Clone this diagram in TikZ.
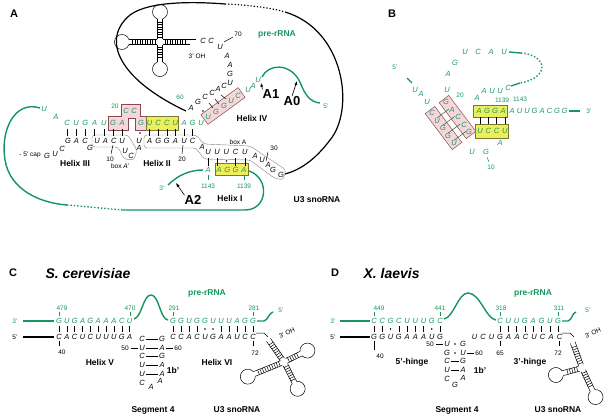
\documentclass[tikz,border=0pt]{standalone}
\usepackage{fontspec}
\setmainfont{Liberation Sans}
\usetikzlibrary{arrows.meta,positioning}
\definecolor{rnagreen}{RGB}{22,150,95}
\definecolor{pinkfill}{RGB}{245,215,218}
\definecolor{pinkedge}{RGB}{140,70,85}
\definecolor{yelfill}{RGB}{238,238,90}
\definecolor{yeledge}{RGB}{120,120,50}
\tikzset{
    nt/.style = {font=\fontsize{7.5}{7.5}\selectfont\itshape, inner sep=0pt},
    gnt/.style = {nt, text=rnagreen},
    num/.style = {font=\fontsize{6.5}{7}\selectfont, inner sep=0pt},
    gnum/.style = {num, text=rnagreen},
    lbl/.style = {font=\fontsize{8.5}{9}\selectfont\bfseries, inner sep=0pt},
    panel/.style = {font=\fontsize{11}{11}\selectfont\bfseries, inner sep=0pt},
    site/.style = {font=\fontsize{13}{13}\selectfont\bfseries, inner sep=0pt},
    grn/.style = {rnagreen, line width=1.4pt},
    blk/.style = {black, line width=1.2pt},
    pair/.style = {line width=0.5pt},
    pinkbox/.style = {draw=pinkedge, fill=pinkfill, line width=0.5pt},
    yelbox/.style = {draw=yeledge, fill=yelfill, line width=0.5pt},
    boxline/.style = {draw=gray, line width=0.4pt, rounded corners=3pt},
    cutarrow/.style = {-{Latex[length=4pt]}, line width=0.6pt}
}
% one row of nucleotides
\newcommand{\seqrow}[6]{\foreach \L [count=\i from 0] in {#6} \node[#5] (#1-\i) at (#2+\i*#4,#3) {\L};}
\newcommand{\bars}[5]{\foreach \i in {#5} \draw[pair] (#1+\i*#2,#3) -- (#1+\i*#2,#4);}
\newcommand{\gudots}[4]{\foreach \i in {#4} \fill (#1+\i*#2,#3) circle (0.9pt);}
% stem with rungs and a loop, from a junction
\newcommand{\stemloop}[4]{%
    \begin{scope}[shift={(#1,#2)}, rotate=#3]
        \draw[pair] (3,-2.5) -- (3+#4,-2.5);
        \draw[pair] (3,2.5) -- (3+#4,2.5);
        \foreach \r in {5,7.5,...,#4} \draw[pair] (\r,-2.5) -- (\r,2.5);
        \draw[pair] (3+#4,2.5) arc[start angle=160.5, end angle=-160.5, radius=7.5];
    \end{scope}}
\newcommand{\stemonly}[4]{%
    \begin{scope}[shift={(#1,#2)}, rotate=#3]
        \draw[pair] (3,-2.5) -- (3+#4,-2.5);
        \draw[pair] (3,2.5) -- (3+#4,2.5);
        \foreach \r in {5,7.5,...,#4} \draw[pair] (\r,-2.5) -- (\r,2.5);
    \end{scope}}

\begin{document}
\begin{tikzpicture}[x=1pt, y=-1pt]
    \useasboundingbox (0,0) rectangle (608,415);

    % ---------------- panel A
    \node[panel] (pA) at (14,14) {A};
    \draw[blk] (186,111) .. controls (120,80) and (100,40) .. (130,15) .. controls (150,0) and (200,2) .. (225,4);
    \draw[blk, dotted] (225,4) .. controls (250,5) and (272,8) .. (285,12);
    \draw[blk] (285,12) .. controls (345,30) and (355,110) .. (330,140) .. controls (315,160) and (300,170) .. (285,174);
    % tRNA-like fold
    \stemloop{160}{42}{180}{28}
    \stemloop{160}{42}{-90}{17}
    \stemloop{160}{42}{90}{20}
    \stemonly{160}{42}{0}{27}
    \draw[pair] (190,39.5) -- (196,39.5);
    \node[num] (ohA) at (197,56) {3' OH};
    \node[lbl, text=rnagreen] (preA) at (277,34) {pre-rRNA};
    % helix IV region
    \node[nt] (a70a) at (203,41) {C};
    \node[nt] (a70b) at (211,41) {C};
    \node[nt] (a70c) at (220,47) {U};
    \node[nt] (a70d) at (227,56) {A};
    \node[nt] (a70e) at (230,65) {A};
    \node[nt] (a70f) at (230,74) {G};
    \node[nt] (a70g) at (230,83) {U};
    \node[num] (n70) at (238,34) {70};
    \draw[pair] (224,42) -- (233,37);
    \node[nt] (h4a) at (191,108) {A};
    \node[nt] (h4b) at (198,102) {G};
    \node[nt] (h4c) at (205,97) {C};
    \node[nt] (h4d) at (212,93) {C};
    \node[nt] (h4e) at (218,89) {A};
    \node[nt] (h4f) at (224,86) {C};
    \node[gnum] (n60) at (180,97) {60};
    \draw[pinkbox, rotate around={36:(223,106)}] (200,100) rectangle (246,112);
    \node[gnt] (h4u1) at (208,117) {U};
    \node[gnt] (h4u2) at (216,112) {G};
    \node[gnt] (h4u3) at (224,106) {G};
    \node[gnt] (h4u4) at (231,101) {U};
    \node[gnt] (h4u5) at (238,96) {C};
    \node[gnt] (h4u6) at (248,90) {U};
    \node[gnt] (h4u7) at (253,86) {A};
    \node[gnt] (h4u8) at (258,80) {U};
    \fill (203,111) circle (0.9pt);
    \draw[pair] (209,103) -- (213,108);
    \draw[pair] (215,99) -- (219,104);
    \draw[pair] (221,95) -- (226,99);
    \node[lbl] (hIV) at (252,118) {Helix IV};
    \draw[grn] (262,77) .. controls (268,64) and (290,62) .. (300,82) .. controls (305,95) and (310,102) .. (320,103);
    \node[gnum] (a5p) at (326,106) {5'};
    \node[site] (A1) at (271,94) {A1};
    \node[site] (A0) at (292,101) {A0};
    \draw[cutarrow] (A1.north west) -- (h4u8.south east);
    \draw[cutarrow] (A0.north) -- (297,81);
    % boxes behind the helices
    \draw[pinkbox] (108,116) -- (121,116) -- (121,104) -- (140,104) -- (140,116) -- (146,116) -- (146,130) -- (135,130) -- (135,118) -- (128,118) -- (128,130) -- (108,130) -- cycle;
    \draw[yelbox] (146,116) rectangle (178,130);
    \draw[boxline] (92,135) -- (128,135) -- (137,150) -- (134,160) -- (124,159) -- (118,147) -- (92,147) -- cycle;
    \draw[boxline] (144,135) -- (196,135) -- (204,144) -- (250,146) -- (286,170) -- (283,180) -- (274,178) -- (250,160) -- (204,159) -- (196,148) -- (144,148) -- cycle;
    % helices II and III
    \node[gnt] (uA) at (44,109) {U};
    \node[gnt] (aA) at (56,117) {A};
    \seqrow{tA}{67}{123}{9.2}{gnt}{C,U,G,A,U,G,A}
    \node[gnt] (cc1) at (126,111) {C};
    \node[gnt] (cc2) at (134,111) {C};
    \node[gnum] (n20a) at (115,106) {20};
    \seqrow{tB}{141}{123}{8.6}{gnt}{G,U,C,C,U,A,G,U}
    \bars{67}{9.2}{129}{136}{0,1,2,3,4,5,6}
    \bars{149.6}{8.6}{129}{136}{0,1,2,3,4,5}
    \fill (140,133) circle (0.9pt);
    \node[num] (capA) at (30,155) {- 5' cap};
    \node[nt] (bg1) at (47,156) {G};
    \node[nt] (bu1) at (55,154) {U};
    \node[nt] (bc1) at (62,149) {C};
    \seqrow{bA}{68}{141}{8.5}{nt}{G,A,C}
    \node[nt] (bg2) at (90,148) {G};
    \seqrow{bB}{97}{141}{8.4}{nt}{U,A,C,U}
    \node[nt] (bu2) at (125,151) {U};
    \node[nt] (bc2) at (131,156) {C};
    \node[nt] (ba2) at (139,148) {A};
    \node[nt] (bu3) at (139,141) {U};
    \seqrow{bC}{149.6}{141}{8.6}{nt}{A,G,G,A,U,C}
    \node[nt] (ba3) at (202,147) {A};
    \seqrow{bD}{208}{152}{9.2}{nt}{U,U,U,C,U}
    \node[nt] (ba4) at (255,156) {A};
    \node[nt] (bu4) at (262,160) {U};
    \node[nt] (ba5) at (268,165) {A};
    \node[nt] (bg5) at (273,170) {G};
    \node[nt] (bg6) at (281,175) {G};
    \node[num] (n30) at (274,148) {30};
    \draw[pair] (268,152) -- (266,161);
    \node[num] (boxA) at (238,142) {box A};
    \node[num] (n10) at (110,159) {10};
    \draw[pair] (113,145) -- (111,154);
    \node[num] (boxAp) at (120,166) {box \textit{A'}};
    \node[num] (n20b) at (182,159) {20};
    \draw[pair] (183,145) -- (182,154);
    \node[lbl] (hIII) at (75,163) {Helix III};
    \node[lbl] (hII) at (157,163) {Helix II};
    % helix I
    \draw[yelbox] (215,163) rectangle (248,175);
    \bars{208}{9.2}{158}{166}{0,1,3,4}
    \fill (226.4,161) circle (0.9pt);
    \node[gnt] (g1143) at (208,170) {A};
    \seqrow{gI}{219}{170}{8.3}{gnt}{A,G,G,A}
    \draw[pair, rnagreen] (208,175) -- (208,180);
    \draw[pair, rnagreen] (244,175) -- (244,180);
    \node[gnum] (n1143) at (208,186) {1143};
    \node[gnum] (n1139) at (244,186) {1139};
    \draw[grn] (40,108) .. controls (15,100) and (0,130) .. (5,160) .. controls (10,190) and (40,203) .. (67,205);
    \draw[grn, dotted] (67,205) -- (123,210);
    \draw[grn] (123,210) -- (245,210) .. controls (268,210) and (270,178) .. (249,171);
    \draw[grn] (168,185) .. controls (178,175) and (190,170) .. (203,170);
    \node[gnum] (a3p) at (162,188) {3'};
    \node[site] (A2) at (193,200) {A2};
    \draw[cutarrow] (A2.north west) -- (176,183);
    \node[lbl] (hI) at (230,198) {Helix I};
    \node[lbl] (u3A) at (317,200) {U3 snoRNA};

    % ---------------- panel B
    \node[panel] (pB) at (392,14) {B};
    \node[gnum] (b5p) at (395,67) {5'};
    \draw[grn] (407,78) -- (412,83);
    \node[gnt] (bb1) at (415,90) {U};
    \node[gnt] (bb2) at (421,94) {A};
    \node[gnt] (bb3) at (427,102) {U};
    \draw[pinkbox, rotate around={-53:(443.5,128)}] (421,122) rectangle (466,134);
    \draw[pinkbox, rotate around={-53:(457.5,117)}] (435,111) rectangle (480,123);
    \foreach \k in {0,1,2,3} \draw[pair, rnagreen!70!black] (437+5.6*\k,118+7.5*\k) -- (449+5.6*\k,109+7.5*\k);
    \foreach \L/\X/\Y in {C/432/113, U/437/121, G/443/128, G/448/136, U/454/143} \node[gnt] at (\X,\Y) {\L};
    \foreach \L/\X/\Y in {G/446/102, A/452/110, C/458/117, C/464/125, G/469/132} \node[gnt] at (\X,\Y) {\L};
    \node[gnt] (bu20) at (447,90) {U};
    \node[gnum] (b20) at (460,95) {20};
    \node[gnt] (bl1) at (448,74) {A};
    \node[gnt] (bl2) at (455,63) {G};
    \seqrow{bl}{465}{52}{13}{gnt}{U,C,A,U}
    \draw[grn] (509,52) -- (521,53);
    \draw[grn, dotted] (521,53) .. controls (548,55) and (550,78) .. (520,83);
    \draw[grn] (520,83) -- (511,86);
    \node[gnt] (bc) at (508,88) {C};
    \seqrow{bk}{500}{91}{-8}{gnt}{U,U,A}
    \node[gnt] (bk3) at (477,98) {A};
    \node[gnum] (b1139) at (502,100) {1139};
    \node[gnum] (b1143) at (520,99) {1143};
    \draw[yelbox] (473,105) rectangle (507,117);
    \draw[yelbox] (475,124) rectangle (508,138);
    \seqrow{by}{479}{111}{8}{gnt}{A,G,G,A}
    \seqrow{bz}{512}{111}{7.5}{gnt}{A,U,U,G,A,C,G,G}
    \draw[grn] (569,111) -- (580,111);
    \node[gnum] (b3p) at (589,111) {3'};
    \seqrow{bw}{480}{131}{8.3}{gnt}{U,C,C,U}
    \bars{480}{8.3}{117}{124}{0,1,2,3}
    \node[gnt] (bwa) at (500,143) {A};
    \node[gnt] (bwu) at (472,152) {U};
    \node[gnt] (bwg) at (486,152) {G};
    \draw[pair, rnagreen] (487,157) -- (489,162);
    \node[gnum] (b10) at (491,167) {10};

    % ---------------- panel C
    \node[panel] (pC) at (13,273) {C};
    \node[font=\fontsize{14}{14}\selectfont\bfseries\itshape, anchor=west] (sc) at (42,273) {S. cerevisiae};
    \node[gnum] (c3p) at (15,321) {3'};
    \draw[grn] (23,321) -- (54,321);
    \seqrow{cg}{59}{321}{7.85}{gnt}{G,U,G,A,G,A,A,A,C,U}
    \draw[grn] (134,319) .. controls (142,317) and (143,295) .. (151,295) .. controls (159,295) and (160,319) .. (168,320);
    \seqrow{ch}{173}{321}{8}{gnt}{G,G,U,G,G,U,U,U,A,G,G}
    \draw[grn] (257,321) -- (264,321) .. controls (268,320) and (269,313) .. (273,312);
    \node[gnum] (c5p) at (281,310) {5'};
    \node[lbl, text=rnagreen] (preC) at (207,293) {pre-rRNA};
    \node[gnum] (c479) at (62,308) {479};
    \node[gnum] (c470) at (130,308) {470};
    \node[gnum] (c291) at (174,308) {291};
    \node[gnum] (c281) at (254,308) {281};
    \foreach \X in {59,130,173,253} \draw[pair, rnagreen] (\X,312) -- (\X,316);
    \bars{59}{7.85}{326}{332}{0,1,2,3,4,5,6,7,8,9}
    \bars{173}{8}{326}{332}{0,1,2,3,6,7,8,9,10}
    \gudots{173}{8}{329}{4,5}
    \node[num] (c5pb) at (15,337) {5'};
    \draw[blk] (23,337) -- (54,337);
    \seqrow{cb}{59}{337}{7.85}{nt}{C,A,C,U,C,U,U,U,G,A}
    \seqrow{cc}{173}{337}{8}{nt}{C,C,A,C,U,G,A,A,U,C,C}
    \draw[pair] (59,341) -- (59,346);
    \node[num] (c40) at (62,352) {40};
    \draw[pair] (253,341) -- (253,346);
    \node[num] (c72) at (255,353) {72};
    \foreach \L/\R/\Y in {C/G/339, U/A/348, C/G/356, U/A/365, U/A/374}
    {
        \node[nt] at (142,\Y) {\L};
        \node[nt] at (162,\Y) {\R};
        \draw[pair] (146,\Y) -- (158,\Y);
    }
    \draw[pair] (131,348) -- (138,348);
    \draw[pair] (166,348) -- (173,348);
    \node[num] (c50) at (125,348) {50};
    \node[num] (c60) at (178,348) {60};
    \node[nt] (cl1) at (142,383) {C};
    \node[nt] (cl2) at (151,387) {A};
    \node[nt] (cl3) at (160,381) {A};
    \node[lbl] (c1b) at (173,370) {1b'};
    \node[lbl] (hV) at (100,362) {Helix V};
    \node[lbl] (hVI) at (217,362) {Helix VI};
    \node[lbl] (seg4C) at (153,410) {Segment 4};
    \node[lbl] (u3C) at (237,410) {U3 snoRNA};
    \draw[pair] (256,333) -- (264,333) -- (268,337);
    \node[num, rotate=25] (ohC) at (287,333) {3' OH};
    \stemonly{284}{362}{125}{24}
    \stemloop{284}{362}{26}{16}
    \stemloop{284}{362}{-63}{20}
    \stemloop{284}{362}{-158}{29}

    % ---------------- panel D
    \node[panel] (pD) at (335,273) {D};
    \node[font=\fontsize{14}{14}\selectfont\bfseries\itshape, anchor=west] (xl) at (360,273) {X. laevis};
    \node[gnum] (d3p) at (333,321) {3'};
    \draw[grn] (340,321) -- (370,321);
    \seqrow{dg}{374}{321}{8.25}{gnt}{C,C,G,C,U,U,U,G,C}
    \draw[grn] (444,319) .. controls (454,317) and (458,293) .. (468,293) .. controls (480,293) and (486,319) .. (496,320);
    \seqrow{dh}{500}{321}{8.3}{gnt}{C,U,U,G,A,G,U,G}
    \draw[grn] (562,321) -- (568,321) .. controls (572,320) and (572,313) .. (576,312);
    \node[gnum] (d5p) at (588,310) {5'};
    \node[lbl, text=rnagreen] (preD) at (533,293) {pre-rRNA};
    \node[gnum] (d449) at (379,308) {449};
    \node[gnum] (d441) at (440,308) {441};
    \node[gnum] (d318) at (501,308) {318};
    \node[gnum] (d311) at (559,308) {311};
    \foreach \X in {374,440,500,558} \draw[pair, rnagreen] (\X,312) -- (\X,316);
    \bars{374}{8.25}{326}{332}{0,1,3,4,5,6,8}
    \gudots{374}{8.25}{329}{2,7}
    \bars{500}{8.3}{326}{332}{0,1,2,3,4,5,6,7}
    \node[num] (d5pb) at (333,337) {5'};
    \draw[blk] (340,337) -- (370,337);
    \seqrow{db}{374}{337}{8.25}{nt}{G,G,U,G,A,A,A,U,G}
    \seqrow{dc}{474.5}{337}{8.5}{nt}{U,C,U,G,A,A,C,U,C,A,C}
    \draw[pair] (374,341) -- (374,350);
    \node[num] (d40) at (380,356) {40};
    \draw[pair] (500,341) -- (500,346);
    \node[num] (d65) at (500,353) {65};
    \draw[pair] (559,341) -- (559,346);
    \node[num] (d72) at (558,353) {72};
    \foreach \L/\R/\Y in {C/G/361, U/A/370}
    {
        \node[nt] at (447,\Y) {\L};
        \node[nt] at (463,\Y) {\R};
        \draw[pair] (451,\Y) -- (459,\Y);
    }
    \node[nt] (ds1) at (447,344) {U};
    \node[nt] (ds2) at (463,344) {G};
    \fill (455,344) circle (0.9pt);
    \node[nt] (ds3) at (447,353) {G};
    \node[nt] (ds4) at (463,353) {U};
    \fill (455,353) circle (0.9pt);
    \draw[pair] (436,344) -- (443,344);
    \draw[pair] (467,353) -- (474,353);
    \node[num] (d50) at (430,344) {50};
    \node[num] (d60) at (479,353) {60};
    \node[nt] (dl1) at (447,379) {C};
    \node[nt] (dl2) at (455,385) {G};
    \node[nt] (dl3) at (463,378) {A};
    \node[lbl] (d1b) at (480,370) {1b'};
    \node[lbl] (h5p) at (412,362) {5'-hinge};
    \node[lbl] (h3p) at (530,362) {3'-hinge};
    \node[lbl] (seg4D) at (457,410) {Segment 4};
    \node[lbl] (u3D) at (558,410) {U3 snoRNA};
    \draw[pair] (562,333) -- (570,333) -- (574,337);
    \node[num, rotate=25] (ohD) at (593,333) {3' OH};
    \stemonly{582}{368}{110}{24}
    \stemloop{582}{368}{-65}{22}
    \stemloop{582}{368}{-165}{17}
\end{tikzpicture}
\end{document}
